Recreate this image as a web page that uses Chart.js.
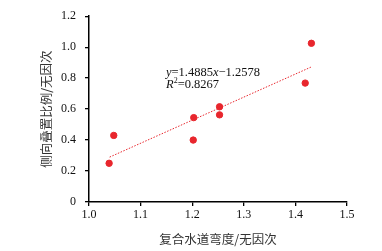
<!DOCTYPE html>
<html>
<head>
<meta charset="utf-8">
<script src="https://cdn.jsdelivr.net/npm/chart.js@4"></script>
<style>
  html, body { margin: 0; padding: 0; background: #fff; }
  #wrap { width: 382px; height: 251px; }
</style>
</head>
<body>
<div id="wrap"><canvas id="c" width="382" height="251"></canvas></div>
<script>
// --- Data ---
const curvature = [1.039, 1.048, 1.202, 1.203, 1.253, 1.253, 1.419, 1.431];
const overlapRatio = [0.25, 0.43, 0.40, 0.545, 0.615, 0.563, 0.768, 1.025];

// fitted line as drawn (end points)
const trendX = [1.04, 1.43];
const trendY = [0.29, 0.871];

const xTickLabels = ['1.0', '1.1', '1.2', '1.3', '1.4', '1.5'];
const yTickLabels = ['0', '0.2', '0.4', '0.6', '0.8', '1.0', '1.2'];

const RED = '#e8262d';
const SERIF = '"Liberation Serif", "Times New Roman", serif';
const CJK = '"Noto Sans CJK SC", sans-serif';

// equation text inside the plot
const eqPlugin = {
    id: 'eq',
    afterDatasetsDraw(chart) {
        const ctx = chart.ctx;
        ctx.save();
        ctx.fillStyle = '#111';
        ctx.textBaseline = 'alphabetic';
        let x = 166, y = 76;
        const parts = [
            ['y', true], ['=1.4885', false], ['x', true], ['\u22121.2578', false]
        ];
        parts.forEach(p => {
            ctx.font = (p[1] ? 'italic ' : '') + '12.5px ' + SERIF;
            ctx.fillText(p[0], x, y);
            x += ctx.measureText(p[0]).width;
        });
        x = 166; y = 88;
        ctx.font = 'italic 12.5px ' + SERIF;
        ctx.fillText('R', x, y);
        x += ctx.measureText('R').width;
        ctx.font = '8px ' + SERIF;
        ctx.fillText('2', x, y - 5);
        x += ctx.measureText('2').width;
        ctx.font = '12.5px ' + SERIF;
        ctx.fillText('=0.8267', x, y);
        ctx.restore();
    }
};

function initChart() {
    const ctx = document.getElementById('c').getContext('2d');
    new Chart(ctx, {
        type: 'scatter',
        data: {
            datasets: [
                {
                    label: 'data',
                    data: curvature.map((v, i) => ({ x: v, y: overlapRatio[i] })),
                    backgroundColor: RED,
                    borderColor: RED,
                    pointRadius: 3.2,
                    order: 1
                },
                {
                    type: 'line',
                    label: 'trend',
                    data: trendX.map((v, i) => ({ x: v, y: trendY[i] })),
                    borderColor: RED,
                    borderWidth: 1,
                    borderDash: [1.5, 1.5],
                    pointRadius: 0,
                    fill: false,
                    order: 2
                }
            ]
        },
        options: {
            responsive: false,
            animation: false,
            layout: { padding: { top: 15, right: 35, left: 0, bottom: 0 } },
            plugins: { legend: { display: false }, tooltip: { enabled: false } },
            scales: {
                x: {
                    type: 'linear',
                    min: 1.0, max: 1.5,
                    afterFit: s => { s.height = 49; },
                    afterBuildTicks: s => { s.ticks = xTickLabels.map(t => ({ value: parseFloat(t) })); },
                    ticks: {
                        color: '#111',
                        padding: 2,
                        font: { family: SERIF, size: 12 },
                        callback: (v, i) => xTickLabels[i]
                    },
                    grid: { drawOnChartArea: false, drawTicks: true, tickLength: 4, color: '#000', lineWidth: 1.3 },
                    border: { display: true, color: '#000', width: 1.5 },
                    title: {
                        display: true,
                        text: '复合水道弯度/无因次',
                        color: '#333',
                        font: { family: CJK, size: 12.5 },
                        padding: { top: 0, bottom: 4 }
                    }
                },
                y: {
                    type: 'linear',
                    min: 0, max: 1.2,
                    afterFit: s => { s.width = 89; },
                    afterBuildTicks: s => { s.ticks = yTickLabels.map(t => ({ value: parseFloat(t) })); },
                    ticks: {
                        color: '#111',
                        padding: 9,
                        font: { family: SERIF, size: 12 },
                        callback: (v, i) => yTickLabels[i]
                    },
                    grid: { drawOnChartArea: false, drawTicks: true, tickLength: 4, color: '#000', lineWidth: 1.3 },
                    border: { display: true, color: '#000', width: 1.5 },
                    title: {
                        display: true,
                        text: '侧向叠置比例/无因次',
                        color: '#333',
                        font: { family: CJK, size: 12.5 },
                        padding: { top: 39, bottom: 0 }
                    }
                }
            }
        },
        plugins: [eqPlugin]
    });
}

window.onload = initChart;
</script>
</body>
</html>
